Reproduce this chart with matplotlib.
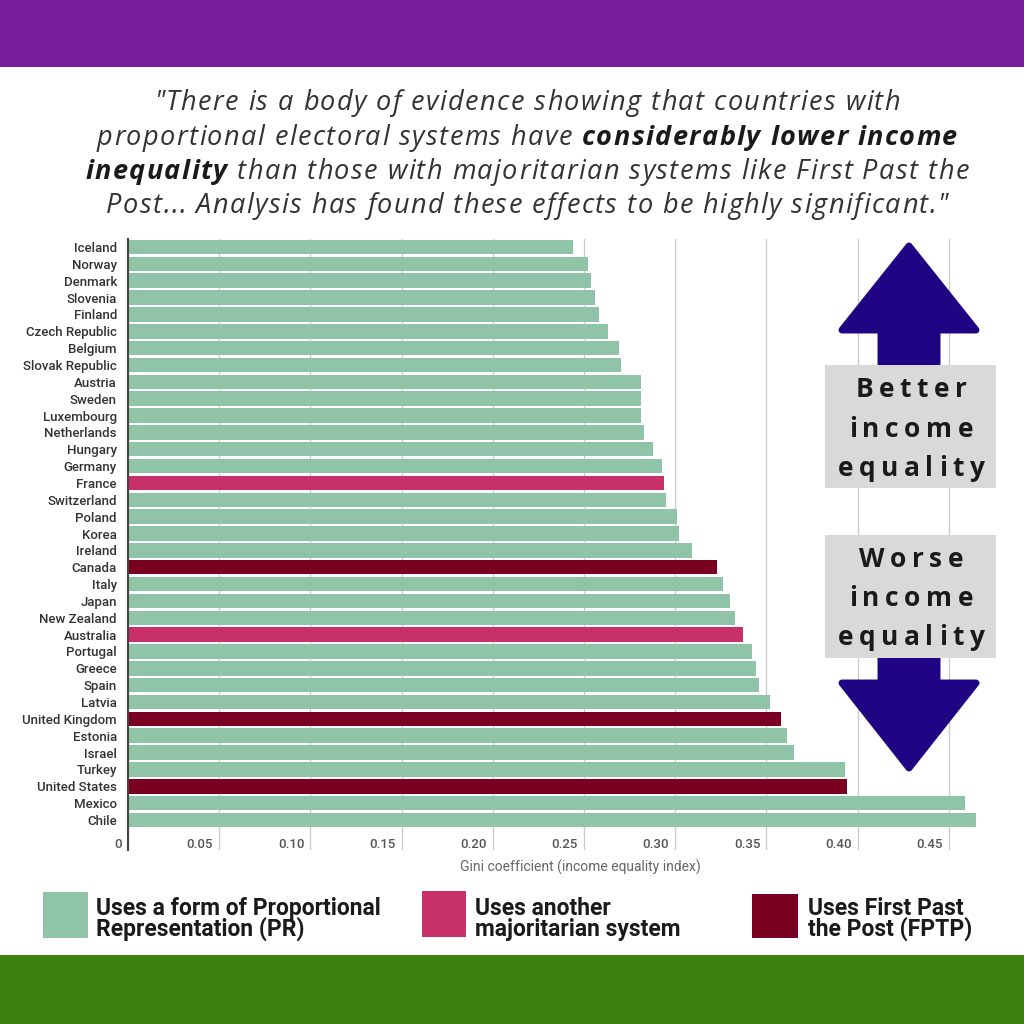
import matplotlib
matplotlib.use("Agg")
import matplotlib.pyplot as plt
from matplotlib import font_manager
from matplotlib.patches import Rectangle, Polygon
from matplotlib.transforms import ScaledTranslation

# ---------------- data ----------------
countries = ["Iceland", "Norway", "Denmark", "Slovenia", "Finland", "Czech Republic",
             "Belgium", "Slovak Republic", "Austria", "Sweden", "Luxembourg",
             "Netherlands", "Hungary", "Germany", "France", "Switzerland", "Poland",
             "Korea", "Ireland", "Canada", "Italy", "Japan", "New Zealand", "Australia",
             "Portugal", "Greece", "Spain", "Latvia", "United Kingdom", "Estonia",
             "Israel", "Turkey", "United States", "Mexico", "Chile"]
gini = [0.244, 0.252, 0.254, 0.256, 0.258, 0.263, 0.269, 0.270, 0.281, 0.281, 0.281,
        0.283, 0.288, 0.293, 0.294, 0.295, 0.301, 0.302, 0.309, 0.323, 0.326, 0.330,
        0.333, 0.337, 0.342, 0.344, 0.346, 0.352, 0.358, 0.361, 0.365, 0.393, 0.394,
        0.459, 0.465]
system = ["PR"] * 35
for c in ["France", "Australia"]:
    system[countries.index(c)] = "MAJ"
for c in ["Canada", "United Kingdom", "United States"]:
    system[countries.index(c)] = "FPTP"
xticks = [0, 0.05, 0.10, 0.15, 0.20, 0.25, 0.30, 0.35, 0.40, 0.45]
xticklabels = ["0", "0.05", "0.10", "0.15", "0.20", "0.25", "0.30", "0.35", "0.40", "0.45"]
legend_labels = {"PR": "Uses a form of Proportional\nRepresentation (PR)",
                 "MAJ": "Uses another\nmajoritarian system",
                 "FPTP": "Uses First Past\nthe Post (FPTP)"}
colors = {"PR": "#8fc4a8", "MAJ": "#c8306a", "FPTP": "#790021"}

# ---------------- fonts ----------------
available = {f.name for f in font_manager.fontManager.ttflist}
NARROW = "Roboto" if "Roboto" in available else "DejaVu Sans"
OPEN = "Open Sans" if "Open Sans" in available else "DejaVu Sans"

W = H = 1024
fig = plt.figure(figsize=(W / 100, H / 100), dpi=100)
fig.patch.set_facecolor("white")


def fx(x):
    return x / W


def fy(y):
    return 1 - y / H


# bands
fig.patches.append(Rectangle((0, fy(67)), 1, 67 / H, transform=fig.transFigure,
                             facecolor="#781c9c", edgecolor="none", zorder=0))
fig.patches.append(Rectangle((0, 0), 1, (H - 955) / H, transform=fig.transFigure,
                             facecolor="#3c8212", edgecolor="none", zorder=0))

# ---------------- chart ----------------
ax_top, ax_bot, ax_left, ax_right = 238.6, 850, 128, 989
ax = fig.add_axes([fx(ax_left), fy(ax_bot), (ax_right - ax_left) / W, (ax_bot - ax_top) / H])
ypos = list(range(len(countries)))
ax.barh(ypos, gini, height=0.86, color=[colors[s] for s in system], zorder=2)
ax.set_xlim(0, 0.472)
ax.set_ylim(35.78, -0.5)
ax.set_yticks(ypos)
ax.set_yticklabels(countries, fontsize=9.5, color="#333333", family=NARROW, weight="medium")
ax.tick_params(axis="y", length=0, pad=8)
ax.set_xticks(xticks)
ax.set_xticklabels(xticklabels, fontsize=9.5, color="#555555", family=NARROW, weight="medium")
ax.tick_params(axis="x", length=0, pad=-9)
off = ScaledTranslation(-6 / 100, 0, fig.dpi_scale_trans)
for lab in ax.get_xticklabels():
    lab.set_horizontalalignment("right")
    lab.set_transform(lab.get_transform() + off)
ax.grid(axis="x", color="#cccccc", linewidth=1, zorder=0)
ax.set_axisbelow(True)
for s in ["top", "right", "bottom"]:
    ax.spines[s].set_visible(False)
ax.spines["left"].set_color("#444444")
ax.spines["left"].set_linewidth(1.5)
ax.set_facecolor("none")
ax.set_xlabel("Gini coefficient (income equality index)", fontsize=10,
              color="#666666", family=NARROW)
ax.xaxis.set_label_coords((580 - ax_left) / (ax_right - ax_left),
                          -(867 - ax_bot) / (ax_bot - ax_top), transform=ax.transAxes)
ax.xaxis.label.set_verticalalignment("center")

R = fig.canvas.get_renderer()


def tw(s, **kw):
    a = fig.text(0, 0, "|" + s + "|", **kw)
    b = fig.text(0, 0, "||", **kw)
    w = a.get_window_extent(R).width - b.get_window_extent(R).width
    a.remove()
    b.remove()
    return w


# ---------------- title (letter-spaced) ----------------
title_lines = [
    [("\"There is a body of evidence showing that countries with", False)],
    [("proportional electoral systems have ", False), ("considerably lower income", True)],
    [("inequality", True), (" than those with majoritarian systems like First Past the", False)],
    [("Post... Analysis has found these effects to be highly significant.\"", False)],
]
baselines = [110, 145, 179, 213]
TSIZE = 19.5
TTRACK = 1.4
for parts, base in zip(title_lines, baselines):
    chars = []
    for s, b in parts:
        k = dict(fontsize=TSIZE, style="italic", weight="bold" if b else "normal",
                 family=OPEN)
        for c in s:
            chars.append((c, b, k, tw(c, **k)))
    total = sum(c[3] for c in chars) + TTRACK * (len(chars) - 1)
    x = 527 - total / 2
    for c, b, k, w in chars:
        if c != " ":
            fig.text(fx(x), fy(base), c, ha="left", va="baseline",
                     color="#1a1a1a" if b else "#333333", **k)
        x += w + TTRACK

# ---------------- arrows & boxes ----------------
NAVY = "#1f0584"
up = [(909, 246), (976, 330), (937, 330), (937, 380), (881, 380), (881, 330), (842, 330)]
down = [(909, 768), (976, 683), (937, 683), (937, 640), (881, 640), (881, 683), (842, 683)]
for pts in (up, down):
    fig.patches.append(Polygon([(fx(a), fy(b)) for a, b in pts], closed=True,
                               transform=fig.transFigure, facecolor=NAVY,
                               edgecolor=NAVY, linewidth=5, joinstyle="round", zorder=3))
for top, bot in ((365, 488), (535, 658)):
    fig.patches.append(Rectangle((fx(825), fy(bot)), (996 - 825) / W, (bot - top) / H,
                                 transform=fig.transFigure, facecolor="#d9d9d9",
                                 edgecolor="none", zorder=4))


def tracked(s, xc, base, size, track):
    k = dict(fontsize=size, weight="bold", family=OPEN)
    ws = [tw(c, **k) for c in s]
    total = sum(ws) + track * (len(s) - 1)
    x = xc - total / 2
    for c, w in zip(s, ws):
        fig.text(fx(x), fy(base), c, ha="left", va="baseline", color="#1a1a1a",
                 zorder=5, **k)
        x += w + track


for words, bases in ((["Better", "income", "equality"], [397, 437, 476]),
                     (["Worse", "income", "equality"], [567, 606, 645])):
    for w_, b_ in zip(words, bases):
        tracked(w_, 911, b_, 19, 5.6)

# ---------------- legend ----------------
legend_boxes = {"PR": (43, 892, 88, 938, 96), "MAJ": (422, 891, 466, 937, 475),
                "FPTP": (752, 894, 798, 938, 808)}
for key, (x0, y0, x1, y1, tx) in legend_boxes.items():
    fig.patches.append(Rectangle((fx(x0), fy(y1)), (x1 - x0) / W, (y1 - y0) / H,
                                 transform=fig.transFigure, facecolor=colors[key],
                                 edgecolor="none"))
    fig.text(fx(tx), fy(919), legend_labels[key], ha="left", va="center",
             fontsize=16.5, weight="bold", family=NARROW, color="#1a1a1a",
             linespacing=0.85)

fig.savefig("out.png", dpi=100)
